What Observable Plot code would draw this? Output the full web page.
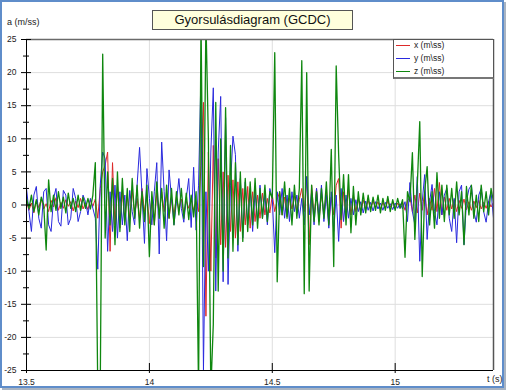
<!DOCTYPE html>
<html><head><meta charset="utf-8">
<script src="https://cdn.jsdelivr.net/npm/d3@7"></script>
<script src="https://cdn.jsdelivr.net/npm/@observablehq/plot@0.6"></script>
<style>
body{margin:0;background:#fff;font-family:"Liberation Sans",Arial,sans-serif;}
#wrap{position:relative;width:506px;height:390px;overflow:hidden;background:#fff;}
#frame{position:absolute;left:0;top:0;width:504px;height:388px;box-sizing:border-box;border:2px solid #5f8dca;box-shadow:2px 2px 0 #a9b4c2;}
#chart{position:absolute;left:0;top:0;}
#title{position:absolute;left:152px;top:10px;width:201px;height:20px;box-sizing:border-box;background:#ffffdc;border:1px solid #555;font-size:13px;text-align:center;line-height:18px;color:#111;}
.lab{position:absolute;color:#222;white-space:nowrap;}
#legend{position:absolute;left:393px;top:39px;width:101px;height:40px;box-sizing:border-box;background:#fff;border:1px solid #555;border-bottom:2px solid #777;}
</style>
</head><body>
<div id="wrap">
<div id="frame"></div>
<div id="chart"></div>
<div id="title"></div>
<div class="lab" id="ylab" style="left:7px;top:17px;font-size:9px;"></div>
<div class="lab" id="xlab" style="left:487px;top:374px;font-size:9px;"></div>
<div id="legend"></div>
</div>
<script>
const titleText = "Gyorsulásdiagram (GCDC)";
const yAxisTitle = "a (m/ss)";
const xAxisTitle = "t (s)";
const seriesNames = ["x (m\\ss)", "y (m\\ss)", "z (m\\ss)"];
const seriesColors = ["#dd2a2a", "#2a2ade", "#0f870f"];
const yMajor = [-25,-20,-15,-10,-5,0,5,10,15,20,25];
const yMinor = [-22.5,-17.5,-12.5,-7.5,-2.5,2.5,7.5,12.5,17.5,22.5];
const xTicks = [13.5,14,14.5,15];

const t = [
13.50,13.51,13.52,13.53,13.54,13.55,13.56,13.57,13.58,13.59,
13.60,13.61,13.62,13.63,13.64,13.65,13.66,13.67,13.68,13.69,
13.70,13.71,13.72,13.73,13.74,13.75,13.76,13.77,13.78,13.79,
13.80,13.81,13.82,13.83,13.84,13.85,13.86,13.87,13.88,13.89,
13.90,13.91,13.92,13.93,13.94,13.95,13.96,13.97,13.98,13.99,
14.00,14.01,14.02,14.03,14.04,14.05,14.06,14.07,14.08,14.09,
14.10,14.11,14.12,14.13,14.14,14.15,14.16,14.17,14.18,14.19,
14.20,14.21,14.22,14.23,14.24,14.25,14.26,14.27,14.28,14.29,
14.30,14.31,14.32,14.33,14.34,14.35,14.36,14.37,14.38,14.39,
14.40,14.41,14.42,14.43,14.44,14.45,14.46,14.47,14.48,14.49,
14.50,14.51,14.52,14.53,14.54,14.55,14.56,14.57,14.58,14.59,
14.60,14.61,14.62,14.63,14.64,14.65,14.66,14.67,14.68,14.69,
14.70,14.71,14.72,14.73,14.74,14.75,14.76,14.77,14.78,14.79,
14.80,14.81,14.82,14.83,14.84,14.85,14.86,14.87,14.88,14.89,
14.90,14.91,14.92,14.93,14.94,14.95,14.96,14.97,14.98,14.99,
15.00,15.01,15.02,15.03,15.04,15.05,15.06,15.07,15.08,15.09,
15.10,15.11,15.12,15.13,15.14,15.15,15.16,15.17,15.18,15.19,
15.20,15.21,15.22,15.23,15.24,15.25,15.26,15.27,15.28,15.29,
15.30,15.31,15.32,15.33,15.34,15.35,15.36,15.37,15.38,15.39,
15.40];

const ax = [
0.5,-0.8,0.3,-1.2,0.6,-0.4,0.9,-0.6,0.2,-1.0,
0.7,-0.3,1.1,-0.8,0.4,-0.5,0.8,-0.2,0.5,-0.9,
0.6,-0.4,1.0,-0.6,0.3,-0.7,0.8,-0.2,0.9,-2.0,
2.5,5.0,6.0,8.0,-7.0,6.4,-3.0,3.0,-3.5,2.0,
-2.5,1.5,-2.0,2.2,-1.5,1.0,-2.0,2.5,-1.0,1.5,
-2.8,1.2,-3.0,1.8,-1.5,2.0,-1.0,1.5,-2.0,1.0,
-1.5,1.2,-0.8,0.9,-1.4,0.6,-0.5,1.0,-0.8,0.5,
-1.0,6.0,15.5,-16.8,8.0,-10.0,9.0,-8.0,7.0,-6.0,
5.0,-6.4,4.5,-4.0,3.8,-5.0,3.5,-4.0,2.5,-3.0,
2.8,-3.5,2.0,-2.5,1.5,-2.0,1.8,-1.5,1.0,-1.2,
1.5,-1.0,0.8,2.0,-1.5,1.2,-1.8,1.0,-0.6,1.4,
-1.0,0.8,2.5,-1.0,4.3,-6.0,3.0,-2.0,2.5,-2.5,
1.8,-1.5,2.0,-2.8,1.2,-1.5,3.0,4.0,-3.5,2.0,
-2.0,2.5,-1.5,1.5,-1.0,1.0,-1.2,0.8,-0.6,0.7,
-0.5,0.6,-0.4,0.5,-0.6,0.4,-0.5,0.6,-0.3,0.4,
-0.6,0.3,-0.4,0.5,-0.8,0.6,1.2,-1.0,1.5,-1.2,
1.8,-0.8,2.0,-1.5,1.0,-0.8,2.5,-1.0,3.4,-1.5,
1.2,-0.8,1.0,-0.6,0.8,-1.0,0.7,-0.5,0.9,-0.7,
0.5,-0.8,0.6,-0.4,0.7,-0.6,0.4,-0.5,0.6,-0.3,
0.4];

const ay = [
2.5,-1.0,-4.0,1.5,2.8,-2.0,-3.5,2.0,2.5,-3.0,
-4.0,1.0,2.5,-2.5,-3.2,2.2,1.5,-3.0,-2.0,2.5,
1.0,-2.5,-1.0,1.5,0.5,-1.5,1.0,-0.5,-2.0,-9.7,
3.0,8.0,7.0,-7.0,2.0,-4.0,3.0,-5.0,2.0,-3.0,
1.5,-5.4,2.2,-1.0,-3.0,3.0,8.7,1.5,-5.8,5.5,
1.0,-3.0,2.0,6.4,-7.4,9.5,2.0,-5.4,5.3,1.0,
-3.0,0.5,4.0,-0.5,-2.6,1.0,4.0,-3.4,5.7,-3.8,
3.0,20.0,-24.9,2.0,-10.0,8.0,17.7,-13.0,8.0,16.4,
-11.6,13.2,-12.0,3.0,10.4,7.6,-7.0,4.0,-5.0,3.5,
-3.0,2.5,-4.0,2.0,-2.5,3.0,-2.0,1.5,-3.0,2.5,
1.0,-7.2,2.0,-1.5,2.5,-2.0,1.5,-2.5,2.0,-1.0,
1.5,-2.0,1.0,-3.0,4.3,-1.5,2.0,-3.0,2.5,-2.0,
3.0,-2.5,1.5,-3.5,2.0,-4.0,1.5,-5.5,2.5,-2.5,
1.5,-2.0,1.0,-1.5,0.8,-1.0,0.5,-1.2,0.6,-0.8,
0.4,-0.9,0.5,-0.6,0.3,-0.8,0.4,-0.5,0.2,-0.7,
0.3,-0.5,0.2,-0.6,0.5,-2.5,3.4,-1.0,-3.0,4.3,
-8.5,0.5,4.6,-5.2,0.5,3.1,-1.0,-3.0,2.0,-1.5,
1.5,2.5,-2.0,-4.0,1.0,-5.7,2.0,3.0,-6.0,0.5,
2.4,3.0,-1.0,-2.6,1.5,2.5,-1.0,-2.6,0.5,2.0,
-2.0];

const az = [
1.0,-0.5,1.5,-1.0,0.8,-1.5,1.2,0.0,-6.8,3.8,
-1.0,1.5,-0.8,2.0,-0.5,1.2,-1.2,1.8,-0.5,1.0,
-1.0,1.5,-0.8,1.2,-0.5,1.0,-0.6,1.5,6.4,-28,
-28,22.8,-5.0,5.0,-3.0,4.0,-6.0,5.0,-4.0,4.0,
-3.0,2.5,-4.0,4.0,-2.0,3.0,-3.5,2.0,-2.5,3.0,
-7.8,2.0,-3.0,3.5,-2.0,2.5,-3.5,3.0,-2.0,2.5,
-3.0,2.0,-1.5,2.5,-2.0,1.8,-2.2,1.5,-1.8,2.0,
-28,28,-9.3,28,10,-28,-18,15.5,-13,10,
-10,14.7,-8.0,9.0,-7.0,6.4,-6.0,5.0,-5.5,4.0,
-4.0,3.5,-3.0,4.0,-3.5,2.5,-2.0,3.0,-2.5,2.0,
1.0,23.0,-11.6,2.0,-1.5,3.5,-2.0,2.5,-3.0,3.0,
-2.0,2.5,21.8,-13.4,20.0,-13.0,3.0,-2.5,2.0,-3.0,
2.5,-2.0,3.5,-3.0,8.4,-9.3,21.0,7.6,-2.2,4.6,
-3.0,4.6,-4.2,2.8,-3.0,2.0,-1.5,1.8,-1.2,1.5,
-1.0,1.2,-0.8,1.5,-1.2,1.0,-0.8,1.3,-1.0,0.8,
-0.8,1.0,-0.5,0.8,-7.9,2.0,0.5,7.9,-5.2,3.0,
12.6,-10.8,2.0,5.8,-3.0,2.0,-3.5,4.9,-2.0,3.0,
-2.5,3.0,-1.5,2.5,-2.0,3.5,-1.5,2.0,-6.0,2.8,
-1.5,3.0,-2.0,1.5,-2.5,3.0,-1.0,2.0,-1.5,2.5,
0.5];

const rows = t.map((tt, i) => ({t: tt, x: ax[i], y: ay[i], z: az[i]}));
const keys = ["x", "y", "z"];
const xMin = xTicks[0], xMax = 15.4;
const yMin = yMajor[0], yMax = yMajor[yMajor.length - 1];
const fmt = d => String(d);

const chart = Plot.plot({
  width: 506, height: 390,
  marginLeft: 26, marginRight: 13, marginTop: 39, marginBottom: 20,
  x: {domain: [xMin, xMax], label: null},
  y: {domain: [yMin, yMax], label: null},
  style: {background: "transparent", fontFamily: "Liberation Sans, Arial, sans-serif", fontSize: "8.5px", color: "#222", overflow: "visible"},
  marks: [
    Plot.ruleY(yMajor.filter(v => v > yMin && v < yMax), {stroke: "#dedede", strokeWidth: 1}),
    Plot.ruleX(xTicks.filter(v => v > xMin), {stroke: "#dedede", strokeWidth: 1}),
    ...keys.map((k, i) => Plot.line(rows, {x: "t", y: k, stroke: seriesColors[i], strokeWidth: i === 2 ? 1.3 : 1, clip: true})),
    Plot.ruleY([yMax], {stroke: "#6a6a6a", strokeWidth: 1.5}),
    Plot.ruleX([xMax], {stroke: "#555", strokeWidth: 1.5}),
    Plot.ruleY([yMin], {stroke: "#000", strokeWidth: 1}),
    Plot.ruleX([xMin], {stroke: "#000", strokeWidth: 1}),
    Plot.axisY({ticks: yMajor, tickSize: 10, dx: 5, tickFormat: () => "", stroke: "#000"}),
    Plot.axisY({ticks: yMinor, tickSize: 6, dx: 3, tickFormat: () => "", stroke: "#000"}),
    Plot.axisY({ticks: yMajor, tickSize: 0, tickPadding: 10, tickFormat: fmt}),
    Plot.axisX({ticks: xTicks, tickSize: 10, dy: -7, tickFormat: () => "", stroke: "#000"}),
    Plot.axisX({ticks: xTicks, tickSize: 0, tickPadding: 8, tickFormat: fmt})
  ]
});
document.getElementById("chart").appendChild(chart);
document.getElementById("title").textContent = titleText;
document.getElementById("ylab").textContent = yAxisTitle;
document.getElementById("xlab").textContent = xAxisTitle;
const leg = document.getElementById("legend");
seriesNames.forEach((n, i) => {
  const row = document.createElement("div");
  row.style.cssText = `position:absolute;left:0;top:${i * 13 - 1}px;height:13px;width:100%;`;
  const ln = document.createElement("span");
  ln.style.cssText = `position:absolute;left:2px;top:6px;width:14px;height:0;border-top:1px solid ${seriesColors[i]};`;
  const tx = document.createElement("span");
  tx.style.cssText = "position:absolute;left:20px;top:0;line-height:13px;font-size:8.5px;color:#222;";
  tx.textContent = n;
  row.appendChild(ln); row.appendChild(tx);
  leg.appendChild(row);
});
</script>
</body></html>
